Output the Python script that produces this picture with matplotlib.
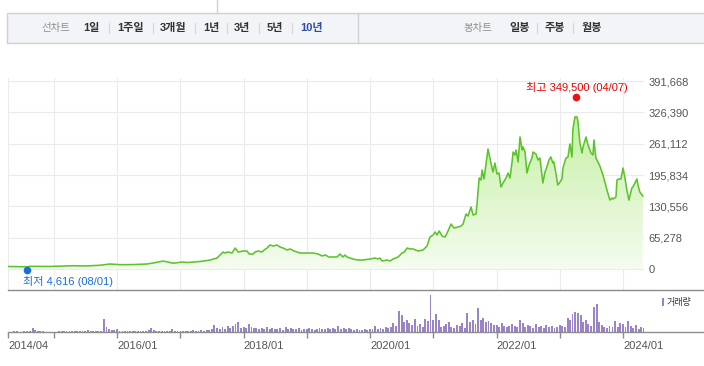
import numpy as np
import pandas as pd
import matplotlib
matplotlib.use("Agg")
import matplotlib.pyplot as plt
import matplotlib.dates as mdates
from matplotlib.colors import LinearSegmentedColormap
from matplotlib.patches import Rectangle
from matplotlib.transforms import offset_copy

plt.rcParams['font.family'] = ['Liberation Sans', 'Noto Sans CJK KR']

# -----------------------------
# Data
# -----------------------------
price_dates = [
    "2014-04-11", "2014-06-20", "2014-08-01", "2014-08-15", "2014-12-08", "2015-02-06",
    "2015-04-22", "2015-07-11", "2015-09-24", "2015-11-20", "2016-01-18", "2016-04-03",
    "2016-06-23", "2016-07-27", "2016-09-23", "2016-10-22", "2016-11-20", "2017-01-11",
    "2017-02-09", "2017-04-24", "2017-06-21", "2017-07-31", "2017-08-18", "2017-09-04",
    "2017-09-16", "2017-10-03", "2017-10-26", "2017-11-13", "2017-11-30", "2017-12-29",
    "2018-01-21", "2018-02-01", "2018-02-24", "2018-03-08", "2018-03-25", "2018-04-17",
    "2018-04-29", "2018-05-16", "2018-06-02", "2018-06-20", "2018-07-13", "2018-07-30",
    "2018-08-17", "2018-09-09", "2018-09-26", "2018-10-19", "2018-11-06", "2018-11-23",
    "2018-12-10", "2019-01-02", "2019-02-06", "2019-03-07", "2019-03-30", "2019-04-16",
    "2019-05-09", "2019-06-01", "2019-06-24", "2019-07-11", "2019-07-28", "2019-08-09",
    "2019-08-20", "2019-09-24", "2019-10-23", "2019-11-20", "2020-01-01", "2020-01-30",
    "2020-02-16", "2020-02-27", "2020-03-10", "2020-04-08", "2020-04-25", "2020-05-13",
    "2020-06-11", "2020-07-04", "2020-07-16", "2020-08-02", "2020-08-19", "2020-09-06",
    "2020-10-04", "2020-11-02", "2020-11-25", "2020-12-12", "2020-12-30", "2021-01-11",
    "2021-01-22", "2021-02-03", "2021-02-20", "2021-03-09", "2021-03-21", "2021-04-13",
    "2021-04-30", "2021-05-23", "2021-06-10", "2021-06-21", "2021-07-08", "2021-07-20",
    "2021-08-06", "2021-08-18", "2021-09-04", "2021-09-10", "2021-09-22", "2021-10-03",
    "2021-10-09", "2021-10-20", "2021-11-01", "2021-11-12", "2021-11-29", "2021-12-11",
    "2021-12-22", "2022-01-03", "2022-01-15", "2022-01-26", "2022-02-07", "2022-02-24",
    "2022-03-08", "2022-03-19", "2022-03-31", "2022-04-06", "2022-04-17", "2022-04-23",
    "2022-05-05", "2022-05-16", "2022-05-28", "2022-06-02", "2022-06-14", "2022-06-25",
    "2022-07-07", "2022-07-24", "2022-07-30", "2022-08-16", "2022-08-28", "2022-09-08",
    "2022-09-25", "2022-10-07", "2022-10-18", "2022-10-30", "2022-11-10", "2022-11-22",
    "2022-11-27", "2022-12-09", "2022-12-20", "2023-01-02", "2023-01-13", "2023-01-19",
    "2023-02-05", "2023-02-17", "2023-02-28", "2023-03-12", "2023-03-17", "2023-03-29",
    "2023-04-10", "2023-04-15", "2023-04-27", "2023-05-09", "2023-05-15", "2023-06-01",
    "2023-06-13", "2023-06-30", "2023-07-11", "2023-07-17", "2023-07-28", "2023-08-09",
    "2023-08-20", "2023-09-07", "2023-09-18", "2023-09-30", "2023-10-17", "2023-10-29",
    "2023-11-04", "2023-11-21", "2023-11-27", "2023-12-08", "2023-12-20", "2024-01-01",
    "2024-01-12", "2024-01-23", "2024-02-04", "2024-02-21", "2024-02-27", "2024-03-21",
    "2024-03-27", "2024-04-07", "2024-04-24",
]
prices = [
    5200, 4900, 4616, 5600, 5300, 6000,
    6800, 6400, 7800, 10400, 9000, 9200,
    10500, 12500, 16500, 14500, 12000, 14500,
    13500, 15600, 18700, 22900, 29200, 35400,
    33300, 35400, 33300, 43700, 35400, 37500,
    37500, 31200, 31200, 35400, 37500, 35400,
    39600, 43700, 50000, 47900, 50000, 45800,
    43700, 39600, 41700, 37500, 35400, 33300,
    33300, 33300, 33300, 31200, 27100, 29200,
    25000, 25000, 25000, 31200, 25000, 29200,
    25000, 20800, 18700, 18700, 20800, 22900,
    20800, 22900, 16700, 18700, 16700, 20800,
    25000, 33300, 35400, 43700, 41700, 41700,
    37500, 39600, 47900, 66700, 70800, 77100,
    70800, 79200, 68700, 66700, 75000, 93700,
    85400, 87500, 89600, 93700, 114600, 110400,
    129200, 112500, 114600, 137500, 189600, 185400,
    206200, 187500, 220800, 250000, 220800, 202100,
    220800, 197900, 200000, 170800, 179200, 189600,
    200000, 189600, 222900, 243700, 237500, 247900,
    222900, 275000, 247900, 254200, 243700, 200000,
    216700, 231200, 243700, 239600, 227100, 231200,
    179200, 202100, 212500, 227100, 233300, 220800,
    222900, 200000, 175000, 181200, 187500, 210400,
    231200, 233300, 260400, 233300, 289600, 316700,
    316700, 308300, 262500, 241700, 254200, 275000,
    258300, 241700, 237500, 268700, 231200, 222900,
    214600, 195800, 181200, 164600, 143700, 147900,
    145800, 150000, 185400, 187500, 187500, 210400,
    189600, 164600, 143700, 168700, 170800, 187500,
    175000, 160400, 152100,
]

# 거래량, semi-monthly bars from 2014-04-15 (relative units)
volume_start = "2014-04-15"
volumes = [
    0.5, 0.5, 0.8, 1, 0.5, 0.5, 0.6, 0.8, 1.5, 4, 2, 1, 0.8, 1, 0.4, 0.3, 0.3, 0.3, 0.5, 1, 1, 0.8, 1, 0.8,
    1.5, 1, 1.5, 1, 1, 1.2, 2, 1, 1.2, 1, 1, 1.5, 13, 5, 3, 2.5, 2, 3, 1.5, 1.2, 1.5, 1, 1.2, 1,
    1.2, 1.5, 1, 1.2, 1.5, 2, 4, 2, 1.5, 1.2, 1.5, 1, 1.2, 1.5, 3, 1.5, 1.2, 1, 1.5, 1, 1.2, 1.5, 2, 1.5,
    1.5, 2, 1.5, 2, 2.5, 3, 7, 4, 3, 5, 3, 6, 4, 6, 8, 10, 4, 5, 4, 8, 5, 4, 4, 3,
    4, 3, 5, 3, 4, 3, 3, 4, 2, 5, 3, 4, 3, 3, 4, 2, 3, 3, 4, 3, 2, 3, 4, 3,
    3, 4, 3, 4, 3, 6, 3, 4, 3, 4, 3, 2, 3, 2, 2, 3, 2, 3, 3, 6, 3, 4, 3, 5,
    4, 5, 9, 6, 21, 17, 10, 12, 9, 7, 13, 6, 8, 5, 13, 11, 37, 12, 18, 12, 5, 6, 8, 10,
    5, 4, 7, 6, 9, 4, 19, 10, 12, 8, 24, 12, 14, 10, 11, 9, 7, 7, 5, 9, 6, 5, 6, 8,
    6, 5, 12, 9, 5, 7, 6, 4, 8, 5, 6, 4, 7, 5, 6, 4, 5, 7, 6, 5, 14, 12, 18, 20,
    19, 17, 10, 12, 8, 6, 25, 28, 10, 7, 5, 4, 6, 5, 11, 5, 9, 8, 5, 11, 6, 4, 7, 3,
    5, 4,
]

y_ticks = [0, 65278, 130556, 195834, 261112, 326390, 391668]
x_tick_dates = ["2014-04-13", "2015-01-01", "2016-01-01", "2017-01-01", "2018-01-01",
                "2019-01-01", "2020-01-01", "2021-01-01", "2022-01-01", "2023-01-01",
                "2024-01-01"]
x_tick_labels = ["2014/04", "", "2016/01", "", "2018/01", "", "2020/01", "",
                 "2022/01", "", "2024/01"]

high_date, high_value = "2023-04-07", 349500
low_date, low_value = "2014-08-01", 4616
high_text = "최고 349,500 (04/07)"
low_text = "최저 4,616 (08/01)"

line_tabs = ["1일", "1주일", "3개월", "1년", "3년", "5년", "10년"]
candle_tabs = ["일봉", "주봉", "월봉"]

# -----------------------------
# Layout (pixels)
# -----------------------------
W, H = 704, 366
PX_LEFT, PX_RIGHT = 8, 644
PX_TOP, PX_SEP, PX_BASE = 78, 289.5, 332
PX_ZERO, PX_TOPTICK = 269, 81
val_per_px = y_ticks[-1] / (PX_ZERO - PX_TOPTICK)

LINE_C = "#5cc42b"
GRID_C = "#ebebeb"
VOL_C = "#9a83c6"
TXT_C = "#555555"

fig = plt.figure(figsize=(W / 100, H / 100), dpi=100)

def rect(l, t, r, b):
    return [l / W, 1 - b / H, (r - l) / W, (b - t) / H]

ax = fig.add_axes(rect(PX_LEFT, PX_TOP, PX_RIGHT, PX_SEP))
vax = fig.add_axes(rect(PX_LEFT, PX_SEP, PX_RIGHT, PX_BASE))

d = pd.to_datetime(price_dates)
xd = mdates.date2num(d)
xlim = mdates.date2num(pd.to_datetime(["2014-04-11", "2024-05-01"]))
ylim = ((PX_ZERO - PX_SEP) * val_per_px, (PX_ZERO - PX_TOP) * val_per_px)

# gradient fill under the line
poly = ax.fill_between(xd, prices, 0, color="none", lw=0)
cmap = LinearSegmentedColormap.from_list("g", ["#f5fcf0", "#c4efa2"])
grad = np.linspace(0, 1, 256).reshape(-1, 1)
im = ax.imshow(grad, extent=[xd[0], xd[-1], 0, 330000], origin="lower",
               aspect="auto", cmap=cmap, zorder=1)
im.set_clip_path(poly.get_paths()[0], transform=ax.transData)
ax.plot(xd, prices, color=LINE_C, lw=1.15, zorder=3)

ax.set_xlim(*xlim)
ax.set_ylim(*ylim)

tick_x = mdates.date2num(pd.to_datetime(x_tick_dates))
ax.set_xticks(tick_x)
ax.set_yticks(y_ticks)
ax.yaxis.tick_right()
ax.set_yticklabels([f"{v:,}" for v in y_ticks])
ax.tick_params(axis="y", length=0, pad=3, labelsize=8, labelcolor=TXT_C)
ax.tick_params(axis="x", length=0, labelbottom=False)
ax.grid(True, color=GRID_C, lw=0.8, zorder=0)
ax.set_axisbelow(True)
for s in ax.spines.values():
    s.set_visible(False)

# high / low markers
hx = mdates.date2num(pd.Timestamp(high_date))
lx = mdates.date2num(pd.Timestamp(low_date))
ax.plot([hx], [high_value], "o", color="#ee1111", ms=4.5, zorder=5,
        transform=offset_copy(ax.transData, fig, x=0, y=4, units="dots"))
ax.text(hx, high_value, high_text, color="#ee0000", fontsize=8, ha="center", va="center",
        transform=offset_copy(ax.transData, fig, x=0, y=14, units="dots"))
ax.plot([lx], [low_value], "o", color="#1b6ddc", ms=4.5, zorder=5,
        transform=offset_copy(ax.transData, fig, x=0, y=-3.5, units="dots"))
ax.text(lx, low_value, low_text, color="#1b6ddc", fontsize=8, ha="left", va="center",
        transform=offset_copy(ax.transData, fig, x=-4.5, y=-15, units="dots"))

# volume
vd = pd.date_range(volume_start, periods=len(volumes), freq="SMS")
vax.bar(vd, volumes, width=11, color=VOL_C, lw=0)
vax.set_xlim(*xlim)
vax.set_ylim(0, PX_BASE - PX_SEP)
vax.set_xticks(tick_x)
vax.set_xticklabels(x_tick_labels)
vax.set_yticks([])
vax.tick_params(axis="x", length=4.5, width=1, color="#8c8c8c", pad=2,
                labelsize=8, labelcolor=TXT_C)
for lab in vax.get_xticklabels():
    lab.set_ha("left")
for s in vax.spines.values():
    s.set_visible(False)
vax.patch.set_alpha(0)

# -----------------------------
# Overlay: top bar, separators, legend
# -----------------------------
ov = fig.add_axes([0, 0, 1, 1])
ov.set_xlim(0, W)
ov.set_ylim(H, 0)
ov.axis("off")

ov.add_patch(Rectangle((7, 12.5), W - 6, 30.5, facecolor="#f3f4f7", edgecolor="#cdd0d6", lw=1))
ov.plot([217, 217], [0, 12.5], color="#cdd0d6", lw=1)
ov.plot([358, 358], [12.5, 43], color="#cdd0d6", lw=1)

ty = 28
ov.text(41, ty, "선차트", fontsize=7.5, color="#8e8e8e", va="center", ha="left")
tab_x = [83, 117, 160, 203, 234, 267, 300]
sep_x = [109, 153, 195, 227, 259, 292]
for t, x in zip(line_tabs, tab_x):
    c = "#2b4ea2" if t == "10년" else "#333333"
    ov.text(x, ty, t, fontsize=8, fontweight="bold", color=c, va="center", ha="left")
for x in sep_x:
    ov.plot([x, x], [ty - 5, ty + 5], color="#d4d6da", lw=0.8)

ov.text(463, ty, "봉차트", fontsize=7.5, color="#8e8e8e", va="center", ha="left")
for t, x in zip(candle_tabs, [509, 545, 582]):
    ov.text(x, ty, t, fontsize=8, fontweight="bold", color="#333333", va="center", ha="left")
for x in [537, 573]:
    ov.plot([x, x], [ty - 5, ty + 5], color="#d4d6da", lw=0.8)

# separator and volume baseline
ov.plot([PX_LEFT, W], [PX_SEP, PX_SEP], color="#8c8c8c", lw=1)
ov.plot([PX_LEFT, W], [PX_BASE, PX_BASE], color="#8c8c8c", lw=1)

# volume legend
ov.add_patch(Rectangle((661.5, 298), 2.5, 8, facecolor=VOL_C, lw=0))
ov.text(667, 302, "거래량", fontsize=6.5, color="#333333", va="center", ha="left")

fig.savefig("out.png", dpi=100)
